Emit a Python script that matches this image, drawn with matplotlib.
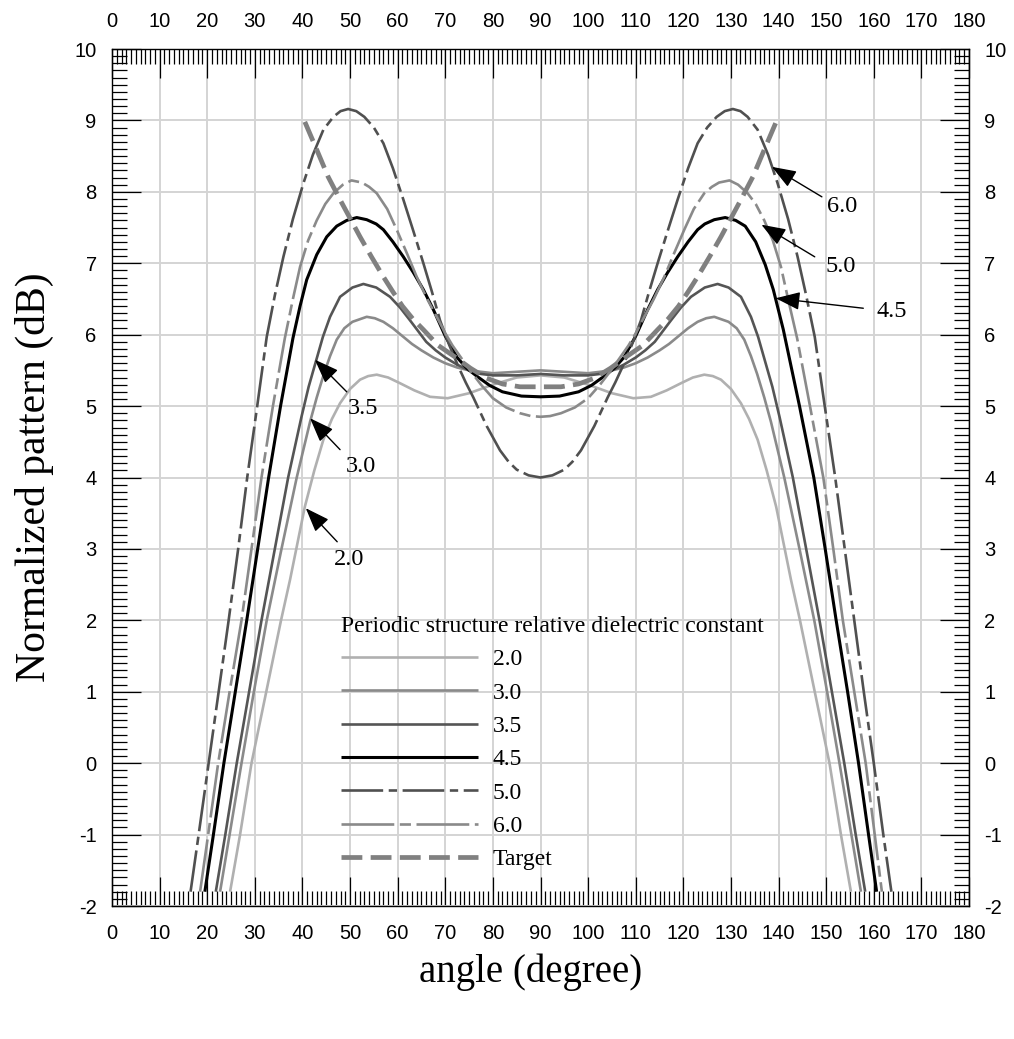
import matplotlib
matplotlib.use("Agg")
import matplotlib.pyplot as plt
from matplotlib.ticker import MultipleLocator

plt.rcParams['lines.scale_dashes'] = False
plt.rcParams['axes.unicode_minus'] = False
plt.rcParams['font.family'] = ['Liberation Sans', 'DejaVu Sans']

# ---------------- data (angle, dB) ----------------
s20 = [(24.8, -1.8), (26.9, -1.0), (29.3, 0.0), (32.4, 1.0), (35.5, 2.0), (37.4, 2.57), (40.5, 3.59), (42.5, 4.1),
       (44.4, 4.53), (46.2, 4.82), (47.9, 5.04), (50.0, 5.24), (52.1, 5.37), (53.8, 5.42), (55.6, 5.44), (58.0, 5.40),
       (60.5, 5.32), (63.5, 5.22), (66.8, 5.13), (70.5, 5.11), (75.0, 5.18), (77.5, 5.24), (80.0, 5.30), (82.5, 5.35),
       (85.0, 5.40), (90.0, 5.43),
       (95.0, 5.40), (97.5, 5.35), (100.0, 5.30), (102.5, 5.24), (105.0, 5.18), (109.5, 5.11), (113.2, 5.13),
       (116.5, 5.22), (119.5, 5.32), (122.0, 5.40), (124.4, 5.44), (126.2, 5.42), (127.9, 5.37), (130.0, 5.24),
       (132.1, 5.04), (133.8, 4.82), (135.6, 4.53), (137.5, 4.1), (139.5, 3.59), (142.6, 2.57), (144.5, 2.0),
       (147.6, 1.0), (150.7, 0.0), (153.1, -1.0), (155.2, -1.8)]

s30 = [(22.7, -1.8), (24.7, -1.0), (27.2, 0.0), (29.8, 1.0), (32.5, 2.0), (35.6, 3.0), (38.8, 4.0), (41.6, 4.78),
       (43.0, 5.12), (44.5, 5.45), (45.8, 5.70), (47.2, 5.93), (48.8, 6.09), (50.5, 6.18), (53.5, 6.25), (55.2, 6.23),
       (57.0, 6.18), (59.0, 6.09), (61.0, 5.98), (63.0, 5.87), (65.0, 5.78), (67.5, 5.68), (70.0, 5.60), (72.5, 5.54),
       (75.0, 5.50), (80.0, 5.46), (85.0, 5.48), (90.0, 5.50),
       (95.0, 5.48), (100.0, 5.46), (105.0, 5.50), (107.5, 5.54), (110.0, 5.60), (112.5, 5.68), (115.0, 5.78),
       (117.0, 5.87), (119.0, 5.98), (121.0, 6.09), (123.0, 6.18), (124.8, 6.23), (126.5, 6.25), (129.5, 6.18),
       (131.2, 6.09), (132.8, 5.93), (134.2, 5.70), (135.5, 5.45), (137.0, 5.12), (138.4, 4.78), (141.2, 4.0),
       (144.4, 3.0), (147.5, 2.0), (150.2, 1.0), (152.8, 0.0), (155.3, -1.0), (157.3, -1.8)]

s35 = [(21.8, -1.8), (23.8, -1.0), (26.2, 0.0), (28.8, 1.0), (31.4, 2.0), (34.2, 3.0), (37.0, 4.0), (39.8, 4.85),
       (41.3, 5.27), (42.8, 5.62), (44.3, 5.97), (45.8, 6.25), (47.9, 6.53), (50.5, 6.66), (52.8, 6.71), (55.5, 6.66),
       (58.4, 6.53), (60.5, 6.38), (62.6, 6.20), (64.3, 6.05), (66.0, 5.90), (68.0, 5.78), (70.0, 5.68), (72.5, 5.58),
       (75.0, 5.50), (77.5, 5.45), (80.0, 5.43), (85.0, 5.43), (90.0, 5.45),
       (95.0, 5.43), (100.0, 5.43), (102.5, 5.45), (105.0, 5.50), (107.5, 5.58), (110.0, 5.68), (112.0, 5.78),
       (114.0, 5.90), (115.7, 6.05), (117.4, 6.20), (119.5, 6.38), (121.6, 6.53), (124.5, 6.66), (127.2, 6.71),
       (129.5, 6.66), (132.1, 6.53), (134.2, 6.25), (135.7, 5.97), (137.2, 5.62), (138.7, 5.27), (140.2, 4.85),
       (143.0, 4.0), (145.8, 3.0), (148.6, 2.0), (151.2, 1.0), (153.8, 0.0), (156.2, -1.0), (158.2, -1.8)]

s45 = [(19.5, -1.8), (21.3, -1.0), (23.5, 0.0), (25.9, 1.0), (28.3, 2.0), (30.6, 3.0), (32.9, 4.0), (35.4, 5.0),
       (38.0, 5.95), (39.5, 6.40), (40.9, 6.77), (43.0, 7.12), (45.1, 7.37), (47.2, 7.52), (49.3, 7.60), (51.4, 7.64),
       (53.5, 7.61), (55.5, 7.55), (57.0, 7.47), (59.0, 7.30), (61.2, 7.09), (63.3, 6.87), (65.4, 6.63), (67.5, 6.35),
       (70.0, 5.98), (72.5, 5.68), (74.5, 5.53), (76.6, 5.42), (79.3, 5.29), (82.0, 5.20), (86.0, 5.14), (90.0, 5.13),
       (94.0, 5.14), (98.0, 5.20), (100.7, 5.29), (103.4, 5.42), (105.5, 5.53), (107.5, 5.68), (110.0, 5.98),
       (112.5, 6.35), (114.6, 6.63), (116.7, 6.87), (118.8, 7.09), (121.0, 7.30), (123.0, 7.47), (124.5, 7.55),
       (126.5, 7.61), (128.8, 7.64), (131.0, 7.60), (133.0, 7.52), (135.2, 7.30), (137.2, 6.98), (138.9, 6.63),
       (141.0, 6.07), (144.4, 5.0), (147.4, 4.0), (149.8, 3.0), (152.1, 2.0), (154.5, 1.0), (156.8, 0.0),
       (158.9, -1.0), (160.6, -1.8)]

s50 = [(16.5, -1.8), (18.2, -1.0), (20.3, 0.0), (22.4, 1.0), (24.5, 2.0), (26.5, 3.0), (28.4, 4.0), (30.5, 5.0),
       (32.5, 5.97), (34.2, 6.55), (36.0, 7.09), (38.0, 7.62), (40.2, 8.12), (42.2, 8.52), (44.4, 8.87), (46.5, 9.05),
       (48.0, 9.13), (49.6, 9.16), (51.3, 9.13), (53.0, 9.05), (55.0, 8.90), (57.0, 8.68), (59.0, 8.33), (61.2, 7.89),
       (63.3, 7.45), (65.4, 7.00), (67.2, 6.60), (68.9, 6.20), (70.8, 5.86), (72.7, 5.56), (74.3, 5.33), (75.9, 5.12),
       (78.7, 4.72), (81.5, 4.38), (83.3, 4.22), (85.0, 4.11), (87.5, 4.03), (90.0, 4.00),
       (92.5, 4.03), (95.0, 4.11), (96.7, 4.22), (98.5, 4.38), (101.3, 4.72), (104.1, 5.12), (105.7, 5.33),
       (107.3, 5.56), (109.2, 5.86), (111.1, 6.20), (112.8, 6.60), (114.6, 7.00), (116.7, 7.45), (118.8, 7.89),
       (121.0, 8.33), (123.0, 8.68), (125.0, 8.90), (127.0, 9.05), (128.7, 9.13), (130.4, 9.16), (132.0, 9.13),
       (133.5, 9.05), (135.6, 8.87), (137.8, 8.52), (139.8, 8.12), (142.0, 7.62), (144.0, 7.09), (145.8, 6.55),
       (147.6, 5.97), (149.7, 5.0), (151.9, 4.0), (153.9, 3.0), (155.9, 2.0), (157.9, 1.0), (160.0, 0.0),
       (162.0, -1.0), (163.7, -1.8)]

s60 = [(18.5, -1.8), (20.2, -1.0), (22.3, 0.0), (24.7, 1.0), (27.2, 2.0), (29.3, 3.0), (31.4, 4.0), (33.8, 5.0),
       (36.3, 5.95), (38.0, 6.50), (39.5, 6.95), (41.2, 7.32), (43.0, 7.60), (44.8, 7.83), (46.5, 7.98), (48.5, 8.10),
       (50.3, 8.16), (52.5, 8.13), (54.0, 8.07), (55.6, 7.98), (57.8, 7.76), (59.8, 7.47), (62.0, 7.13), (64.0, 6.81),
       (66.2, 6.50), (68.2, 6.25), (70.0, 6.02), (71.5, 5.85), (73.5, 5.66), (75.2, 5.50), (77.5, 5.30), (80.0, 5.11),
       (82.8, 4.98), (85.7, 4.90), (88.0, 4.86), (90.0, 4.85),
       (92.0, 4.86), (94.3, 4.90), (97.2, 4.98), (100.0, 5.11), (102.5, 5.30), (104.8, 5.50), (106.5, 5.66),
       (108.5, 5.85), (110.0, 6.02), (111.8, 6.25), (113.8, 6.50), (116.0, 6.81), (118.0, 7.13), (120.2, 7.47),
       (122.2, 7.76), (124.4, 7.98), (126.0, 8.07), (127.5, 8.13), (129.7, 8.16), (131.5, 8.10), (133.5, 7.98),
       (135.2, 7.83), (137.0, 7.60), (138.8, 7.32), (140.5, 6.95), (142.0, 6.50), (143.9, 5.95), (146.6, 5.0),
       (149.4, 4.0), (151.5, 3.0), (153.5, 2.0), (155.9, 1.0), (158.3, 0.0), (160.2, -1.0), (161.7, -1.8)]

target = [(40.5, 8.98), (43.0, 8.59), (45.4, 8.21), (47.9, 7.89), (50.0, 7.63), (52.1, 7.37), (54.5, 7.09),
          (57.0, 6.81), (59.0, 6.60), (61.0, 6.40), (63.2, 6.22), (65.4, 6.07), (68.5, 5.85), (72.0, 5.69),
          (75.3, 5.53), (78.7, 5.39), (82.0, 5.31), (85.7, 5.27), (90.0, 5.27),
          (94.3, 5.27), (98.0, 5.31), (101.3, 5.39), (104.7, 5.53), (108.0, 5.69), (111.5, 5.85), (114.6, 6.07),
          (116.8, 6.22), (119.0, 6.40), (121.0, 6.60), (123.0, 6.81), (125.5, 7.09), (127.9, 7.37), (130.0, 7.63),
          (132.1, 7.89), (134.6, 8.21), (137.0, 8.59), (139.5, 8.98)]

series_labels = ['2.0', '3.0', '3.5', '4.5', '5.0', '6.0', 'Target']
legend_title = 'Periodic structure relative dielectric constant'

# annotations: label, arrow tip, arrow tail, text centre (data coords)
ann_labels = ['6.0', '5.0', '4.5', '3.5', '3.0', '2.0']
ann_tips = [(138.6, 8.35), (136.4, 7.54), (139.4, 6.51), (42.6, 5.65), (41.6, 4.83), (40.7, 3.57)]
ann_tails = [(149.1, 7.93), (147.6, 7.09), (157.8, 6.37), (49.3, 5.20), (47.9, 4.39), (47.3, 3.10)]
ann_text = [(153.3, 7.80), (153.0, 6.96), (163.7, 6.33), (52.7, 4.97), (52.3, 4.16), (49.7, 2.85)]

x_major = list(range(0, 181, 10))
y_major = list(range(-2, 11, 1))

# ---------------- figure ----------------
fig = plt.figure(figsize=(10.14, 10.39), dpi=100)
ax = fig.add_axes([112 / 1014, 1 - 906 / 1039, 857 / 1014, 857 / 1039])

styles = [
    dict(color='#b0b0b0', lw=1.9, ls='-'),
    dict(color='#8a8a8a', lw=1.9, ls='-'),
    dict(color='#555555', lw=1.9, ls='-'),
    dict(color='#000000', lw=2.2, ls='-'),
    dict(color='#505050', lw=1.9, dashes=(30, 4, 6, 4)),
    dict(color='#8a8a8a', lw=1.9, dashes=(38, 4, 8, 4)),
    dict(color='#808080', lw=3.4, dashes=(15, 6)),
]
series = [s20, s30, s35, s45, s50, s60, target]
handles = []
for pts, lab, st in zip(series, series_labels, styles):
    x = [p[0] for p in pts]
    y = [p[1] for p in pts]
    h, = ax.plot(x, y, label=lab, solid_capstyle='butt', dash_capstyle='butt',
                 solid_joinstyle='round', dash_joinstyle='round', **st)
    handles.append(h)

ax.set_xlim(0, 180)
ax.set_ylim(-2, 10)
ax.set_xticks(x_major)
ax.set_yticks(y_major)
ax.xaxis.set_minor_locator(MultipleLocator(1))
ax.yaxis.set_minor_locator(MultipleLocator(0.1))
ax.grid(True, which='major', color='#d4d4d4', lw=1.4)
ax.set_axisbelow(True)
ax.tick_params(which='both', direction='in', top=True, right=True,
               labeltop=True, labelright=True, color='black', width=0.9)
ax.tick_params(which='major', length=21, labelsize=14.5, pad=11)
ax.tick_params(which='minor', length=10.5)
ax.tick_params(axis='x', which='major', pad=13)
for sp in ax.spines.values():
    sp.set_linewidth(1.0)

serif = ['Liberation Serif', 'DejaVu Serif']
ax.set_xlabel('angle (degree)', fontsize=28, family=serif, va='center')
ax.xaxis.set_label_coords(0.489, -0.077)
ax.set_ylabel('Normalized pattern (dB)', fontsize=30, family=serif, va='center')
ax.yaxis.set_label_coords(-0.091, 0.5)

for lab, tip, tail, tp in zip(ann_labels, ann_tips, ann_tails, ann_text):
    ax.annotate('', xy=tip, xytext=tail,
                arrowprops=dict(arrowstyle='-|>,head_length=0.75,head_width=0.28',
                                mutation_scale=20, color='black', lw=1.0,
                                shrinkA=0, shrinkB=0))
    ax.text(tp[0], tp[1], lab, fontsize=17.5, family=serif, ha='center', va='center')

leg = ax.legend(handles=handles, title=legend_title, loc='upper left',
                bbox_to_anchor=((341 - 112) / 857, (906 - 616) / 857),
                frameon=False, handlelength=5.8, handletextpad=0.62,
                labelspacing=0.5, borderpad=0, borderaxespad=0,
                prop=dict(family=serif, size=17),
                title_fontproperties=dict(family=serif, size=17),
                alignment='left')

fig.savefig('out.png', dpi=100)
